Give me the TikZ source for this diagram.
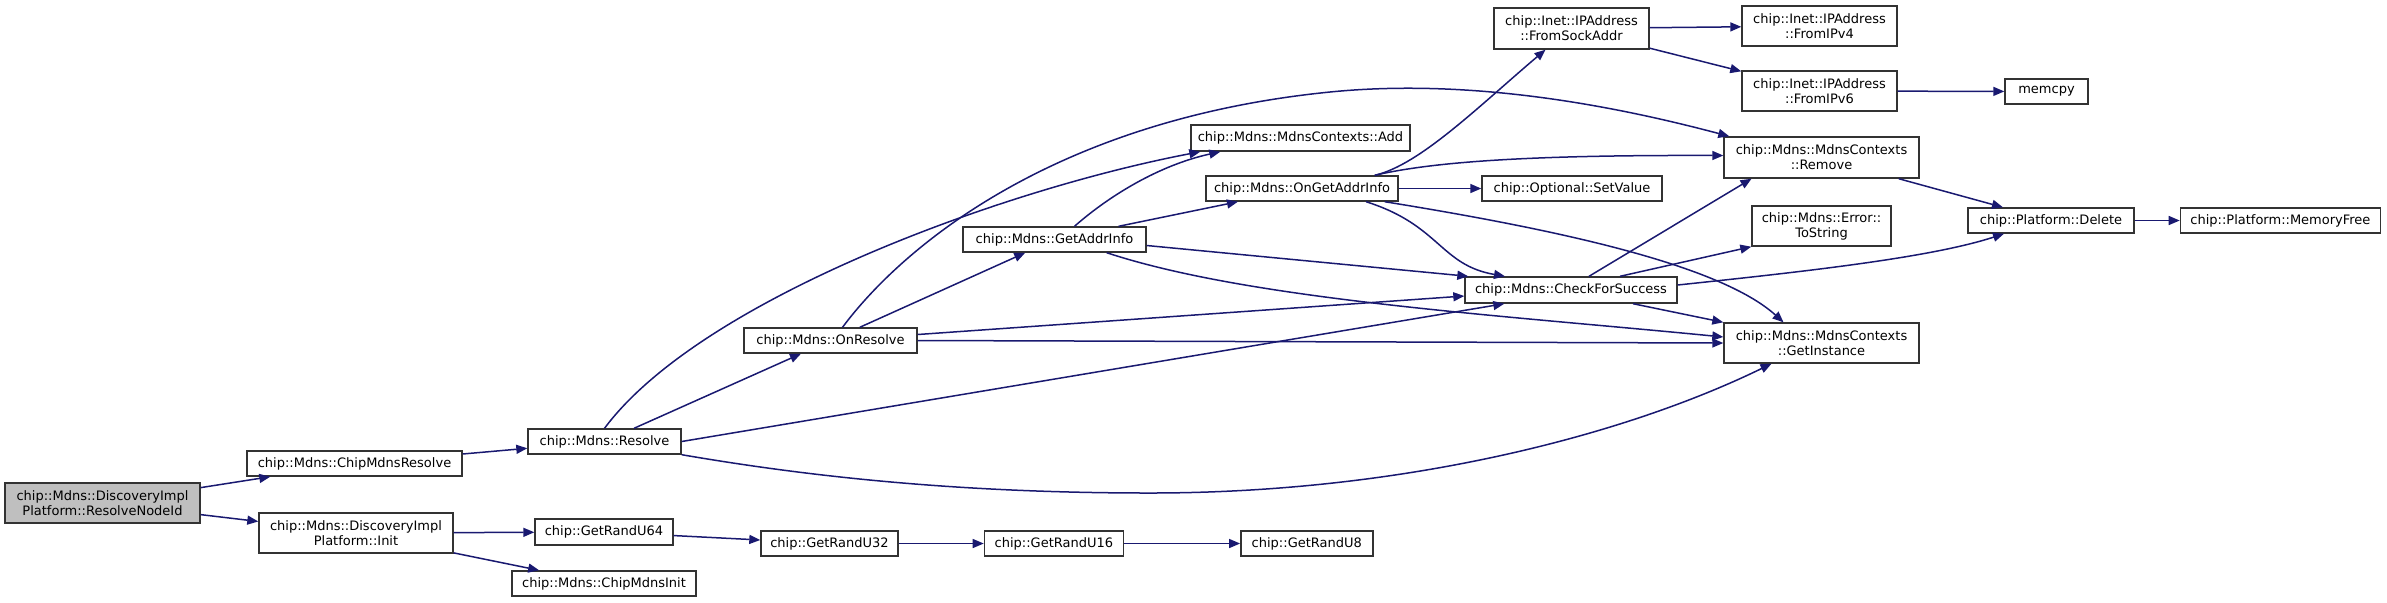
\documentclass[tikz,border=0pt]{standalone}
\usepackage{fontspec}
\setmainfont{DejaVu Sans}
\usetikzlibrary{arrows.meta,positioning}
\definecolor{EdgeBlue}{RGB}{25,25,112}
\definecolor{RootGrey}{RGB}{191,191,191}

\begin{document}
\begin{tikzpicture}[x=0.5pt, y=-0.5pt, font=\fontsize{6.5}{7.5}\selectfont, >={Triangle[length=5.5pt,width=4.5pt]},
  fn/.style={draw=black!80, line width=0.7pt, fill=white, inner sep=0pt, minimum height=12.5pt, align=center},
  root/.style={fn, fill=RootGrey},
  call/.style={->, draw=EdgeBlue, line width=0.75pt}]
  \useasboundingbox (0,0) rectangle (2387,602);
  \node[root, minimum width=97.5pt, minimum height=20pt] (nodeid) at (102.5,503) {chip::Mdns::DiscoveryImpl\\Platform::ResolveNodeId};
  \node[fn, minimum width=107.5pt] (chipres) at (354.5,463.5) {chip::Mdns::ChipMdnsResolve};
  \node[fn, minimum width=97pt, minimum height=20pt] (init) at (356,533) {chip::Mdns::DiscoveryImpl\\Platform::Init};
  \node[fn, minimum width=76.5pt] (resolve) at (604.5,441.5) {chip::Mdns::Resolve};
  \node[fn, minimum width=69pt, minimum height=13pt] (u64) at (604,532) {chip::GetRandU64};
  \node[fn, minimum width=92pt] (mdnsinit) at (604,583.5) {chip::Mdns::ChipMdnsInit};
  \node[fn, minimum width=68.5pt] (u32) at (829.5,543.5) {chip::GetRandU32};
  \node[fn, minimum width=69.5pt, right=42.5pt of u32] (u16) {chip::GetRandU16};
  \node[fn, minimum width=66pt, right=58pt of u16] (u8) {chip::GetRandU8};
  \node[fn, minimum width=86.5pt] (onresolve) at (830.5,340.5) {chip::Mdns::OnResolve};
  \node[fn, minimum width=91.5pt] (getaddr) at (1054.5,239.5) {chip::Mdns::GetAddrInfo};
  \node[fn, minimum width=109.5pt, minimum height=13pt] (add) at (1300.5,138) {chip::Mdns::MdnsContexts::Add};
  \node[fn, minimum width=96pt] (ongetaddr) at (1302,188.5) {chip::Mdns::OnGetAddrInfo};
  \node[fn, minimum width=77.5pt, minimum height=20.5pt] (sockaddr) at (1571.5,28.5) {chip::Inet::IPAddress\\::FromSockAddr};
  \node[fn, minimum width=77.5pt, minimum height=20pt] (ipv4) at (1819.5,26) {chip::Inet::IPAddress\\::FromIPv4};
  \node[fn, minimum width=77.5pt, minimum height=20pt] (ipv6) at (1819.5,91) {chip::Inet::IPAddress\\::FromIPv6};
  \node[fn, minimum width=41.5pt] (memcpy) at (2046.5,91.5) {memcpy};
  \node[fn, minimum width=97.5pt, minimum height=20.5pt] (remove) at (1821.5,157.5) {chip::Mdns::MdnsContexts\\::Remove};
  \node[fn, minimum width=90pt] (setvalue) at (1572,188.5) {chip::Optional::SetValue};
  \node[fn, minimum width=69.5pt, minimum height=20pt] (tostring) at (1821.5,226) {chip::Mdns::Error::\\ToString};
  \node[fn, minimum width=83pt] (delete) at (2051,220.5) {chip::Platform::Delete};
  \node[fn, minimum width=100pt, right=22.5pt of delete] (memfree) {chip::Platform::MemoryFree};
  \node[fn, minimum width=106pt, minimum height=13pt] (check) at (1571,290) {chip::Mdns::CheckForSuccess};
  \node[fn, minimum width=97.5pt, minimum height=20pt] (instance) at (1821.5,343) {chip::Mdns::MdnsContexts\\::GetInstance};
  \draw[call] (nodeid) -- (chipres);
  \draw[call] (nodeid) -- (init);
  \draw[call] (chipres) -- (resolve);
  \draw[call] (init) -- (u64);
  \draw[call] (init) -- (mdnsinit);
  \draw[call] (u64) -- (u32);
  \draw[call] (u32) -- (u16);
  \draw[call] (u16) -- (u8);
  \draw[call] (resolve) -- (onresolve);
  \draw[call] (resolve.north) .. controls (700,300) and (1000,190) .. ([xshift=5pt]add.south west);
  \draw[call] (resolve.east) -- ([xshift=20pt]check.south west);
  \draw[call] (resolve.south east) .. controls (800,475) and (950,493) .. (1150,493) .. controls (1400,493) and (1621,437) .. ([xshift=-25pt]instance.south);
  \draw[call] (onresolve) -- (getaddr);
  \draw[call] ([xshift=6pt]onresolve.north) .. controls (900,250) and (1050,120) .. (1330,92) .. controls (1480,77) and (1630,110) .. ([xshift=3pt]remove.north west);
  \draw[call] ([yshift=3pt]onresolve.east) -- ([yshift=-3pt]check.west);
  \draw[call] (onresolve.east) -- (instance.west);
  \draw[call] ([xshift=10pt]getaddr.north) .. controls (1110,195) and (1160,165) .. ([xshift=15pt]add.south west);
  \draw[call] (getaddr) -- (ongetaddr);
  \draw[call] ([yshift=-3pt]getaddr.east) -- ([xshift=2pt]check.north west);
  \draw[call] ([xshift=-20pt]getaddr.south east) .. controls (1250,300) and (1500,315) .. ([yshift=3pt]instance.west);
  \draw[call] ([xshift=-12pt]ongetaddr.north east) .. controls (1420,165) and (1480,105) .. ([xshift=-13pt]sockaddr.south);
  \draw[call] ([xshift=-12pt]ongetaddr.north east) .. controls (1440,160) and (1550,155) .. ([yshift=1pt]remove.west);
  \draw[call] (ongetaddr) -- (setvalue);
  \draw[call] ([xshift=32pt]ongetaddr.south) .. controls (1440,225) and (1440,265) .. ([xshift=-33pt]check.north);
  \draw[call] ([xshift=-7pt]ongetaddr.south east) .. controls (1560,230) and (1720,265) .. ([xshift=-19pt]instance.north);
  \draw[call] (sockaddr) -- (ipv4);
  \draw[call] (sockaddr) -- (ipv6);
  \draw[call] (ipv6) -- (memcpy);
  \draw[call] (remove) -- (delete);
  \draw[call] (delete) -- (memfree);
  \draw[call] ([xshift=9pt]check.north) -- ([xshift=-35pt]remove.south);
  \draw[call] ([xshift=24.5pt]check.north) -- (tostring.south west);
  \draw[call] ([yshift=2.5pt]check.east) .. controls (1800,272) and (1930,258) .. ([xshift=-23.5pt]delete.south);
  \draw[call] ([xshift=31pt]check.south) -- (instance.north west);
\end{tikzpicture}
\end{document}
